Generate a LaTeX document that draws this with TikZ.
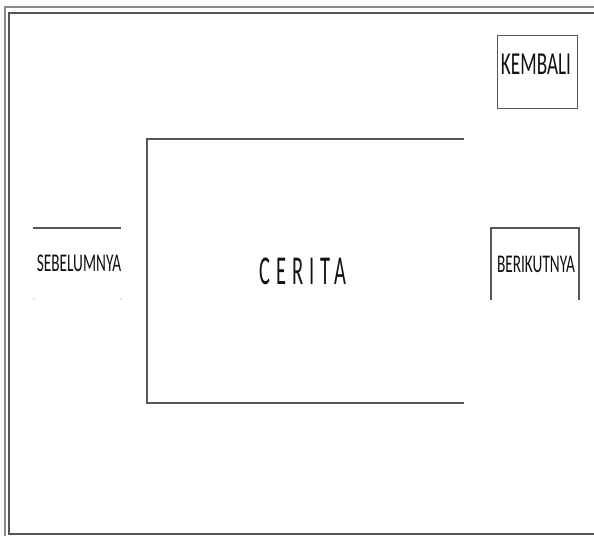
\documentclass[tikz,border=0pt]{standalone}
\usepackage{fontspec}
\usetikzlibrary{positioning,calc}
\newfontfamily\narrowfont[FakeStretch=0.6]{Carlito}
\newfontfamily\spacedfont[FakeStretch=0.5,LetterSpace=14]{Carlito}
\definecolor{Frame}{HTML}{555555}
\definecolor{FrameLight}{HTML}{8A8A8A}
\definecolor{Ink}{HTML}{111111}
\tikzset{
  panel/.style={draw=Frame,line width=1.2pt},
  btnlabel/.style={font=\narrowfont\fontsize{25.5}{28}\selectfont,text=Ink,inner sep=0pt},
}

\begin{document}
\begin{tikzpicture}[x=1pt,y=-1pt]
  \useasboundingbox (0,0) rectangle (594,536);
  % page frame
  \draw[FrameLight,line width=1.4pt] (5,536) -- (5,7) -- (594,7);
  \draw[Frame,line width=1.4pt] (594,13) -- (9,13) -- (9,534) -- (594,534);

  % story panel
  \draw[panel] (464,139) -- (147,139) -- (147,403) -- (464,403);
  \node[font=\spacedfont\fontsize{41}{44}\selectfont,text=Ink,inner sep=0pt]
    (cerita) at (303,271) {CERITA};

  % back to menu
  \node[panel,minimum width=80pt,minimum height=73pt,anchor=north west]
    (kembali) at (497,35) {};
  \node[btnlabel,font=\narrowfont\fontsize{32}{34}\selectfont]
    (kembalitxt) at (536,64) {KEMBALI};

  % previous
  \draw[panel] (33,228) -- (121,228);
  \node[btnlabel] (sebelumnya) at (79,263) {SEBELUMNYA};
  \fill[FrameLight] (34,299) circle (0.7pt);
  \fill[FrameLight] (121,299) circle (0.7pt);

  % next
  \draw[panel] (491,300) -- (491,228) -- (579,228) -- (579,300);
  \node[btnlabel] (berikutnya) at (536,264) {BERIKUTNYA};
\end{tikzpicture}
\end{document}
